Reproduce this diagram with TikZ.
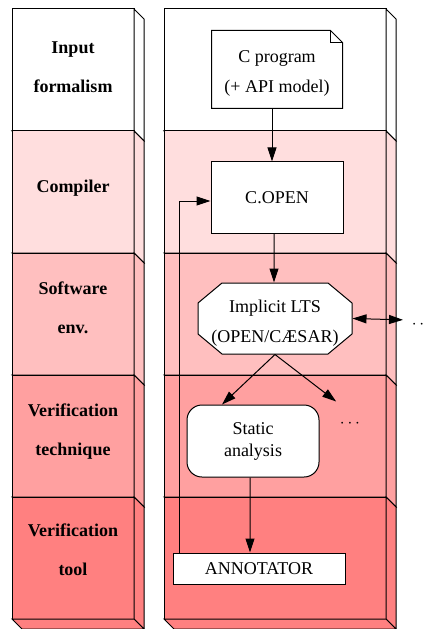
\documentclass[tikz,border=0pt]{standalone}
\usepackage{fontspec}
\setmainfont{Liberation Serif}
\usetikzlibrary{arrows.meta}

\definecolor{toolchain0}{RGB}{255,255,255}
\definecolor{toolchain1}{RGB}{255,222,222}
\definecolor{toolchain2}{RGB}{255,191,191}
\definecolor{toolchain3}{RGB}{255,160,160}
\definecolor{toolchain4}{RGB}{255,128,128}

\tikzset{every path/.style={line width=1bp},
    box/.style={draw,fill=white,inner sep=0pt,align=center,
        font=\fontsize{18bp}{30bp}\selectfont},
    layertext/.style={align=center,font=\fontsize{18bp}{39bp}\selectfont\bfseries},
    dots/.style={font=\fontsize{18bp}{22bp}\selectfont,text height=16bp,text depth=0bp},
    edge/.style={-{Triangle[length=14bp,width=9bp]}},
    }

% one slab of a layer: left, top, width, colour
\newcommand\slab[4]{%
  \filldraw[fill=#4] (#1,#2) rectangle ++(#3,122);
  \filldraw[fill=#4] (#1+#3,#2) -- ++(10,10) -- ++(0,122) -- ++(-10,-10) -- cycle;
  \filldraw[fill=#4] (#1,#2+122) -- ++(10,10) -- ++(#3,0) -- ++(-10,-10) -- cycle;
}

\begin{document}
\begin{tikzpicture}[x=1bp,y=-1bp]
	\useasboundingbox (0,0) rectangle (426,629);
	% layers
	\slab{12}{9}{122}{toolchain0}   \slab{164}{9}{222}{toolchain0}
	\slab{12}{131}{122}{toolchain1} \slab{164}{131}{222}{toolchain1}
	\slab{12}{253}{122}{toolchain2} \slab{164}{253}{222}{toolchain2}
	\slab{12}{375}{122}{toolchain3} \slab{164}{375}{222}{toolchain3}
	\slab{12}{497}{122}{toolchain4} \slab{164}{497}{222}{toolchain4}

	\node[layertext,text height=55bp] (input) at (73,65) {Input\\formalism};
	\node[layertext,text height=16.5bp] (compiler) at (73,186) {Compiler};
	\node[layertext] (software) at (73,308) {Software\\env.};
	\node[layertext,text height=55bp] (technique) at (73,430) {Verification\\technique};
	\node[layertext] (tool) at (73,550) {Verification\\tool};

	% tool chain
	\node[box,draw=none,minimum width=130bp,minimum height=77bp,
		text height=51bp,text depth=4bp] (cprog) at (277,69.5) {C program\\(+ API model)};
	\draw (cprog.south west) -- (cprog.south east) -- ([yshift=-12bp]cprog.north east)
		-- ([xshift=-12bp]cprog.north east) -- (cprog.north west) -- cycle;
	\draw ([xshift=-12bp]cprog.north east) |- ([yshift=-12bp]cprog.north east);
	\node[box,minimum width=132bp,minimum height=71bp] (copen) at (277,197.5) {C.OPEN};
	\filldraw[fill=white] (222,283) -- (328,283) -- (352,303) -- (352,334)
		-- (328,354) -- (222,354) -- (198,334) -- (198,303) -- cycle;
	\node[box,draw=none,fill=none,minimum width=154bp,minimum height=71bp,
		text height=52bp,text depth=4bp] (lts) at (275,318.5) {Implicit LTS\\(OPEN/CÆSAR)};
	\node[box,rounded corners=15bp,minimum width=132bp,minimum height=72bp,
		font=\fontsize{18bp}{22bp}\selectfont] (static) at (253,441) {Static\\analysis};
	\node[dots,minimum width=22bp,minimum height=34bp] (more) at (350,419) {$\cdots$};
	\node[dots,anchor=west] (outside) at (408,320) {$\cdots$};
	\node[box,minimum width=172bp,minimum height=31bp] (annot) at (259,568.5) {ANNOTATOR};

	\draw[edge] ([xshift=-5bp]cprog.south) -- ([xshift=-5bp]copen.north);
	\draw[edge] ([xshift=-3bp]copen.south) -- ([xshift=-1bp]lts.north);
	\draw[{Triangle[length=14bp,width=9bp]}-{Triangle[length=14bp,width=9bp]},shorten >=5bp]
		(lts.east) -- (outside.west);
	\draw[edge] (lts.south) -- ([xshift=-31bp]static.north);
	\draw[edge] (lts.south) -- (more.north west);
	\draw[edge] ([xshift=-3bp]static.south) -- ([xshift=-9bp]annot.north);
	\draw[edge] ([xshift=-80bp]annot.north) |- ([yshift=-3.5bp]copen.west);
\end{tikzpicture}
\end{document}
